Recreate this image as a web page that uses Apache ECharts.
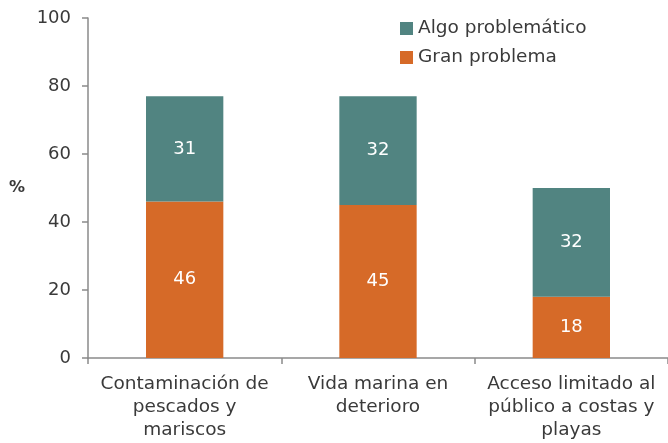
<!DOCTYPE html>
<html><head><meta charset="utf-8">
<script src="https://cdn.jsdelivr.net/npm/echarts@6/dist/echarts.min.js"></script>
<style>html,body{margin:0;padding:0;background:#fff}#c{width:668px;height:443px}</style>
</head><body><div id="c"></div>
<script>
const categories = ['Contaminación de\npescados y\nmariscos', 'Vida marina en\ndeterioro', 'Acceso limitado al\npúblico a costas y\nplayas'];
const granProblema = [46, 45, 18];
const algoProblematico = [31, 32, 32];
const yTicks = [0, 20, 40, 60, 80, 100];

const font = '"DejaVu Sans", "Open Sans", sans-serif';
const textColor = '#3a3a3a';
const axisColor = '#8a8a8a';
const chart = echarts.init(document.getElementById('c'), null, {renderer: 'canvas'});
chart.setOption({
  animation: false,
  textStyle: {fontFamily: font},
  grid: {left: 88, right: 0, top: 18, bottom: 85, containLabel: false},
  legend: {
    orient: 'vertical', left: 395, top: 14, itemWidth: 13, itemHeight: 13, itemGap: 10,
    icon: 'rect',
    data: ['Algo problemático', 'Gran problema'],
    textStyle: {fontSize: 18.5, color: textColor, fontFamily: font}
  },
  xAxis: {
    type: 'category', data: categories,
    axisLine: {lineStyle: {color: axisColor, width: 1.5}},
    axisTick: {show: true, alignWithLabel: false, length: 6, lineStyle: {color: axisColor, width: 1.5}},
    axisLabel: {fontSize: 18.5, color: textColor, lineHeight: 23, margin: 15, interval: 0, fontFamily: font}
  },
  yAxis: {
    type: 'value', min: yTicks[0], max: yTicks[yTicks.length - 1], interval: 20,
    name: '%', nameLocation: 'middle', nameRotate: 0, nameGap: 63,
    nameTextStyle: {fontSize: 16, color: textColor, fontWeight: 'bold', fontFamily: font},
    splitLine: {show: false},
    axisLine: {show: true, lineStyle: {color: axisColor, width: 1.5}},
    axisTick: {show: true, length: 6, lineStyle: {color: axisColor, width: 1.5}},
    axisLabel: {fontSize: 18, color: textColor, margin: 17, fontFamily: font}
  },
  series: [
    {
      name: 'Gran problema', type: 'bar', stack: 's', data: granProblema, barWidth: '40%',
      itemStyle: {color: '#D66A28'},
      label: {show: true, position: 'inside', color: '#fff', fontSize: 18, fontFamily: font}
    },
    {
      name: 'Algo problemático', type: 'bar', stack: 's', data: algoProblematico, barWidth: '40%',
      itemStyle: {color: '#518481'},
      label: {show: true, position: 'inside', color: '#fff', fontSize: 18, fontFamily: font}
    }
  ]
});
</script></body></html>
